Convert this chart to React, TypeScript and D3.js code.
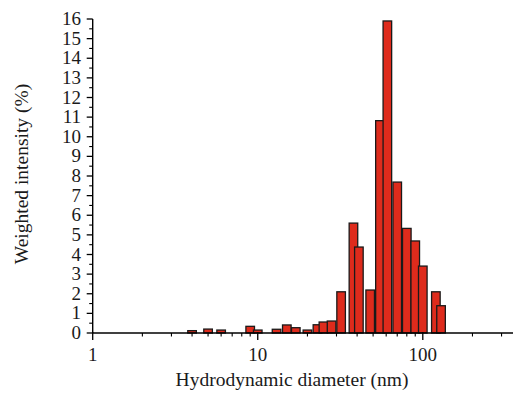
import React from "react";
import * as d3 from "d3";

const diameters = [4, 5, 6, 9, 10, 13, 15, 17, 20, 23, 25, 28, 32, 38, 41, 48, 55, 61, 70, 80, 90, 100, 120, 129];
const intensities = [0.12, 0.2, 0.15, 0.34, 0.15, 0.19, 0.41, 0.27, 0.15, 0.42, 0.56, 0.61, 2.1, 5.6, 4.38, 2.19, 10.82, 15.9, 7.69, 5.33, 4.69, 3.41, 2.1, 1.39];
const xMajorTicks = [1, 10, 100];
const xMinorTicks = [2, 3, 4, 5, 6, 7, 8, 9, 20, 30, 40, 50, 60, 70, 80, 90, 200, 300];
const yTicks = d3.range(0, 17);
const yMinorTicks = d3.range(0.5, 16, 1);

const W = 513;
const H = 397;
const FONT = "Liberation Serif, Times New Roman, serif";

export default function App() {
  const x = d3.scaleLog().domain([1, 352]).range([92.7, 513]);
  const y = d3.scaleLinear().domain([0, 16]).range([333, 19]);
  const halfW = 0.026; // half bar width in decades
  const data = diameters.map((d, i) => ({ d, v: intensities[i] }));

  return (
    <svg width={W} height={H} style={{ position: "absolute", left: 0, top: 0, background: "#fff" }}>
      {data.map((b, i) => {
        const x0 = x(b.d * Math.pow(10, -halfW));
        const x1 = x(b.d * Math.pow(10, halfW));
        return (
          <rect key={i} x={x0} y={y(b.v)} width={x1 - x0} height={y(0) - y(b.v)}
            fill="#de2b1c" stroke="#1a1a1a" strokeWidth={1.3} />
        );
      })}
      {/* x axis */}
      <line x1={x(1)} x2={513} y1={y(0)} y2={y(0)} stroke="#000" strokeWidth={1.4} />
      {xMajorTicks.map((t) => (
        <g key={"xm" + t}>
          <line x1={x(t)} x2={x(t)} y1={y(0) - 1} y2={y(0) + 7} stroke="#000" strokeWidth={1.3} />
          <text x={x(t)} y={361} textAnchor="middle" fontFamily={FONT} fontSize={19} fill="#1a1a1a">{t}</text>
        </g>
      ))}
      {xMinorTicks.map((t) => (
        <line key={"xn" + t} x1={x(t)} x2={x(t)} y1={y(0)} y2={y(0) + 3.5} stroke="#000" strokeWidth={1.1} />
      ))}
      {/* y axis */}
      <line x1={x(1)} x2={x(1)} y1={y(16)} y2={y(0)} stroke="#000" strokeWidth={1.4} />
      {yTicks.map((t) => (
        <g key={"ym" + t}>
          <line x1={x(1) - 6} x2={x(1)} y1={y(t)} y2={y(t)} stroke="#000" strokeWidth={1.3} />
          <text x={81} y={y(t) + 6} textAnchor="end" fontFamily={FONT} fontSize={19} fill="#1a1a1a">{t}</text>
        </g>
      ))}
      {yMinorTicks.map((t) => (
        <line key={"yn" + t} x1={x(1) - 3.5} x2={x(1)} y1={y(t)} y2={y(t)} stroke="#000" strokeWidth={1.1} />
      ))}
      <text x={292} y={386} textAnchor="middle" fontFamily={FONT} fontSize={19.5} fill="#1a1a1a">Hydrodynamic diameter (nm)</text>
      <text transform={`translate(28,174) rotate(-90)`} textAnchor="middle" fontFamily={FONT} fontSize={19.5} fill="#1a1a1a">Weighted intensity (%)</text>
    </svg>
  );
}
